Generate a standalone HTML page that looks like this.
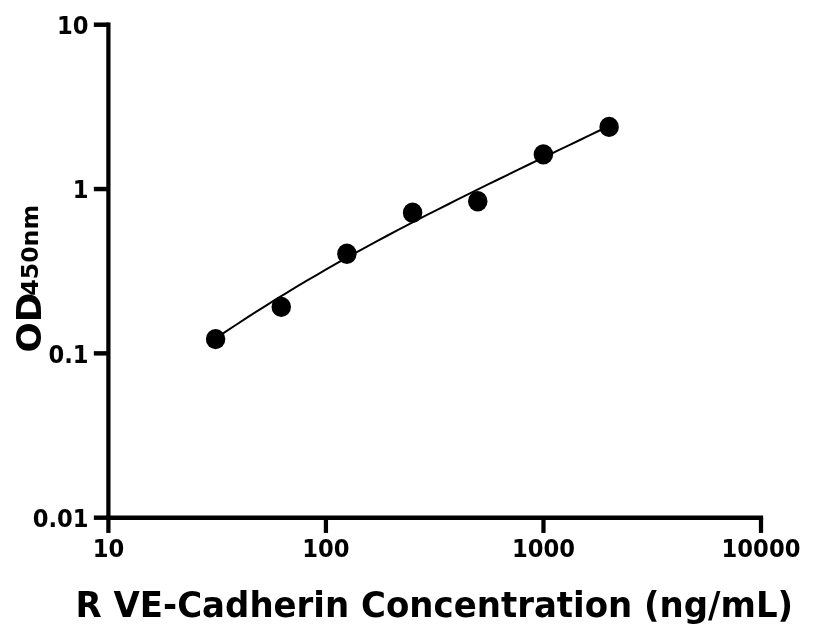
<!DOCTYPE html>
<html><head><meta charset="utf-8"><title>R VE-Cadherin</title>
<style>
html,body{margin:0;padding:0;background:#fff;}
svg{display:block;font-family:"DejaVu Sans","Liberation Sans",sans-serif;font-weight:bold;fill:#000;}
</style></head><body>
<svg width="816" height="640" viewBox="0 0 800 600" preserveAspectRatio="none">
<rect width="800" height="600" fill="#fff"/>
<g stroke="#000" stroke-width="4.17" stroke-linecap="butt" fill="none">
<line x1="106.27" y1="21.07" x2="106.27" y2="487.43"/>
<line x1="104.19" y1="485.34" x2="748.16" y2="485.34"/>
<line x1="106.27" y1="485.34" x2="106.27" y2="499.63"/>
<line x1="319.54" y1="485.34" x2="319.54" y2="499.63"/>
<line x1="532.81" y1="485.34" x2="532.81" y2="499.63"/>
<line x1="746.08" y1="485.34" x2="746.08" y2="499.63"/>
<line x1="91.99" y1="485.34" x2="106.27" y2="485.34"/>
<line x1="91.99" y1="331.28" x2="106.27" y2="331.28"/>
<line x1="91.99" y1="177.22" x2="106.27" y2="177.22"/>
<line x1="91.99" y1="23.16" x2="106.27" y2="23.16"/>
</g>
<polyline points="211.37,317.40 221.26,310.99 231.16,304.70 241.05,298.51 250.94,292.42 260.83,286.43 270.72,280.53 280.62,274.73 290.51,269.02 300.40,263.38 310.29,257.84 320.18,252.37 330.08,246.97 339.97,241.65 349.86,236.40 359.75,231.21 369.64,226.09 379.53,221.02 389.43,216.01 399.32,211.05 409.21,206.15 419.10,201.28 428.99,196.47 438.89,191.69 448.78,186.94 458.67,182.23 468.56,177.55 478.45,172.90 488.35,168.27 498.24,163.66 508.13,159.07 518.02,154.49 527.91,149.92 537.81,145.36 547.70,140.80 557.59,136.24 567.48,131.68 577.37,127.12 587.26,122.54 597.16,117.95" fill="none" stroke="#000" stroke-width="1.9" stroke-linecap="round" stroke-linejoin="round"/>
<g fill="#000">
<circle cx="211.37" cy="317.91" r="9.55"/>
<circle cx="275.74" cy="287.72" r="9.55"/>
<circle cx="340.10" cy="237.89" r="9.55"/>
<circle cx="404.51" cy="199.45" r="9.55"/>
<circle cx="468.38" cy="188.67" r="9.55"/>
<circle cx="532.75" cy="144.75" r="9.55"/>
<circle cx="597.16" cy="118.97" r="9.55"/>
</g>
<g font-size="22.22px">
<text transform="translate(106.27,522.2) scale(1,1.035)" text-anchor="middle">10</text>
<text transform="translate(319.54,522.2) scale(1,1.035)" text-anchor="middle">100</text>
<text transform="translate(532.81,522.2) scale(1,1.035)" text-anchor="middle">1000</text>
<text transform="translate(746.08,522.2) scale(1,1.035)" text-anchor="middle">10000</text>
<text transform="translate(86.9,494.09) scale(1,1.035)" text-anchor="end">0.01</text>
<text transform="translate(86.9,340.03) scale(1,1.035)" text-anchor="end">0.1</text>
<text transform="translate(86.9,185.97) scale(1,1.035)" text-anchor="end">1</text>
<text transform="translate(86.9,31.91) scale(1,1.035)" text-anchor="end">10</text>
</g>
<text x="74.1" y="578.8" font-size="33.33px">R VE-Cadherin Concentration (ng/mL)</text>
<text transform="translate(40.2,330.5) rotate(-90)" font-size="33.33px">OD<tspan font-size="22.22px" dx="-2.8" dy="-3.3">450nm</tspan></text>
</svg>
</body></html>
